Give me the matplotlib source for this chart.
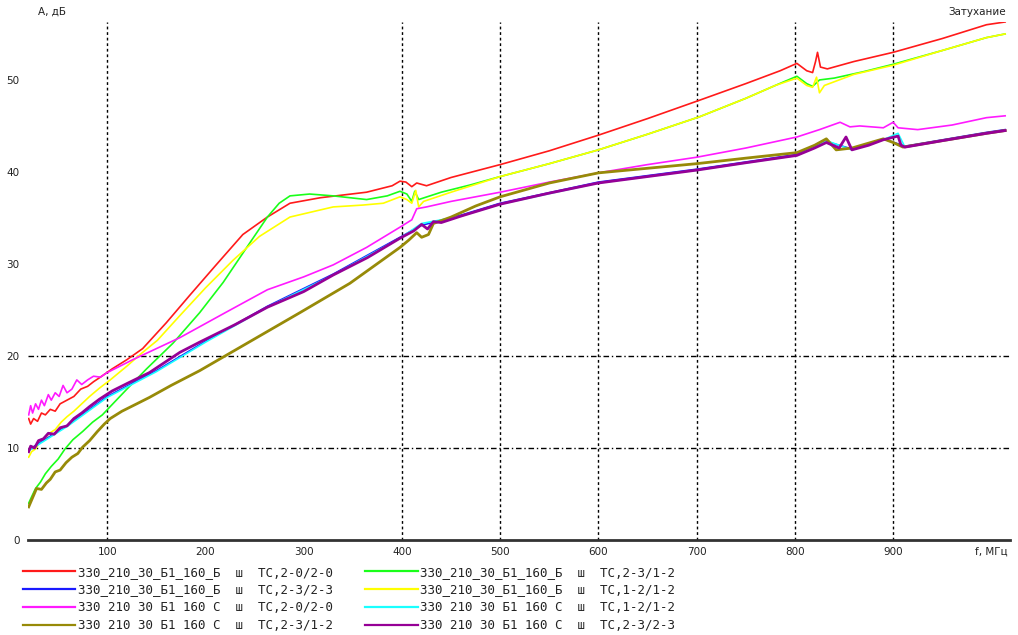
import matplotlib
matplotlib.use("Agg")
import matplotlib.pyplot as plt
from matplotlib.lines import Line2D

# --- measured attenuation curves: frequency (MHz) / attenuation (dB) ---
red_f = [20, 22, 25, 29, 33, 37, 42, 47, 52, 59, 66, 73, 80, 86, 93, 105, 120, 136, 160, 184, 210, 238, 263, 286, 317, 364, 390, 398, 404, 410, 415, 425, 450, 500, 550, 600, 650, 703, 750, 785, 802, 812, 818, 821, 823, 826, 833, 860, 900, 950, 995, 1014]
red_a = [13.2, 12.6, 13.2, 12.9, 13.8, 13.6, 14.2, 14.0, 14.8, 15.2, 15.6, 16.4, 16.7, 17.2, 17.7, 18.6, 19.6, 20.8, 23.6, 26.6, 29.8, 33.2, 35.1, 36.6, 37.2, 37.8, 38.5, 39.0, 38.9, 38.4, 38.8, 38.5, 39.4, 40.8, 42.3, 44.0, 45.8, 47.8, 49.6, 51.0, 51.8, 51.0, 50.8, 52.0, 53.0, 51.4, 51.2, 52.0, 53.0, 54.5, 56.0, 56.3]

green_f = [20, 23, 27, 32, 37, 43, 50, 57, 65, 75, 85, 95, 103, 120, 140, 167, 194, 218, 242, 263, 275, 286, 306, 330, 364, 385, 398, 405, 410, 413, 417, 440, 470, 500, 550, 600, 650, 703, 750, 780, 802, 812, 818, 825, 840, 870, 900, 950, 995, 1014]
green_a = [4.0, 4.7, 5.6, 6.3, 7.2, 8.0, 8.8, 9.9, 10.9, 11.8, 12.8, 13.6, 14.5, 16.4, 18.6, 21.4, 24.7, 28.0, 31.8, 35.1, 36.6, 37.4, 37.6, 37.4, 37.0, 37.4, 37.9, 37.6, 36.8, 37.9, 37.0, 37.8, 38.6, 39.5, 40.9, 42.4, 44.1, 46.0, 48.0, 49.4, 50.4, 49.6, 49.3, 50.0, 50.2, 50.9, 51.7, 53.2, 54.6, 55.0]

yellow_f = [20, 23, 27, 31, 36, 41, 47, 53, 59, 66, 74, 82, 92, 103, 120, 135, 151, 174, 200, 228, 255, 286, 310, 330, 360, 381, 398, 405, 410, 414, 417, 422, 450, 500, 550, 600, 650, 703, 750, 780, 802, 812, 818, 822, 825, 830, 860, 900, 950, 995, 1014]
yellow_a = [9.0, 9.6, 9.9, 10.6, 11.0, 11.6, 12.0, 12.8, 13.4, 14.0, 14.8, 15.6, 16.5, 17.4, 18.9, 20.3, 21.7, 24.4, 27.4, 30.4, 33.0, 35.1, 35.7, 36.2, 36.4, 36.6, 37.3, 37.0, 36.6, 38.0, 36.2, 36.8, 37.8, 39.5, 40.9, 42.4, 44.1, 46.0, 48.0, 49.4, 50.2, 49.4, 49.2, 50.3, 48.6, 49.4, 50.6, 51.6, 53.2, 54.6, 55.0]

magenta_f = [20, 22, 24, 27, 30, 33, 36, 40, 43, 47, 51, 55, 59, 64, 69, 74, 80, 86, 93, 100, 126, 150, 174, 220, 263, 300, 330, 364, 398, 410, 415, 425, 450, 500, 550, 600, 650, 700, 750, 802, 825, 846, 856, 866, 890, 900, 905, 925, 960, 995, 1014]
magenta_a = [13.6, 14.6, 13.8, 14.8, 14.2, 15.2, 14.6, 15.8, 15.2, 16.0, 15.6, 16.8, 16.0, 16.4, 17.4, 16.9, 17.4, 17.8, 17.7, 18.2, 19.6, 20.8, 22.0, 24.7, 27.2, 28.6, 29.9, 31.8, 34.0, 34.8, 36.0, 36.2, 36.8, 37.8, 38.9, 39.9, 40.8, 41.6, 42.6, 43.8, 44.6, 45.4, 44.9, 45.0, 44.8, 45.4, 44.8, 44.6, 45.1, 45.9, 46.1]

olive_f = [20, 24, 28, 33, 38, 42, 47, 52, 58, 64, 70, 75, 82, 90, 97, 103, 115, 130, 143, 165, 194, 228, 296, 347, 398, 407, 415, 420, 427, 432, 450, 475, 500, 550, 600, 650, 700, 750, 802, 820, 832, 842, 858, 890, 900, 910, 950, 995, 1014]
olive_a = [3.6, 4.6, 5.6, 5.5, 6.2, 6.6, 7.4, 7.6, 8.4, 9.0, 9.4, 10.1, 10.8, 11.8, 12.6, 13.2, 14.0, 14.8, 15.5, 16.8, 18.4, 20.5, 24.7, 27.9, 31.8, 32.6, 33.4, 32.9, 33.2, 34.4, 35.1, 36.3, 37.3, 38.8, 39.9, 40.4, 40.9, 41.5, 42.1, 42.9, 43.6, 42.4, 42.6, 43.6, 43.2, 42.7, 43.4, 44.2, 44.5]

purple_f = [20, 22, 26, 30, 35, 40, 46, 52, 59, 66, 74, 82, 92, 105, 120, 143, 174, 194, 230, 263, 300, 330, 365, 398, 412, 420, 426, 432, 440, 460, 500, 550, 600, 650, 700, 750, 802, 820, 832, 845, 852, 858, 875, 890, 905, 908, 912, 950, 995, 1014]
purple_a = [9.6, 10.2, 10.0, 10.8, 11.0, 11.6, 11.5, 12.2, 12.4, 13.2, 13.8, 14.5, 15.3, 16.2, 17.0, 18.2, 20.4, 21.5, 23.4, 25.3, 27.0, 28.8, 30.7, 32.8, 33.6, 34.3, 33.8, 34.6, 34.5, 35.2, 36.5, 37.7, 38.8, 39.5, 40.2, 41.0, 41.8, 42.6, 43.2, 42.6, 43.8, 42.4, 42.9, 43.5, 43.9, 42.9, 42.7, 43.4, 44.2, 44.5]

blue_f = [20, 60, 100, 150, 200, 263, 330, 398, 420, 460, 500, 600, 700, 802, 832, 858, 890, 912, 995, 1014]
blue_a = [9.8, 12.5, 15.6, 18.4, 21.6, 25.4, 28.9, 32.9, 34.2, 35.3, 36.6, 38.9, 40.3, 41.9, 43.3, 42.5, 43.6, 42.8, 44.3, 44.6]

cyan_f = [20, 60, 100, 150, 200, 263, 330, 398, 420, 460, 500, 600, 700, 802, 832, 858, 890, 905, 912, 995, 1014]
cyan_a = [9.7, 12.4, 15.5, 18.3, 21.5, 25.3, 28.8, 32.8, 34.4, 35.2, 36.5, 38.8, 40.2, 41.8, 43.4, 42.4, 43.5, 44.2, 42.7, 44.2, 44.5]

labels = [
    "330_210_30_Б1_160_Б  ш  ТС,2-0/2-0",
    "330_210_30_Б1_160_Б  ш  ТС,2-3/2-3",
    "330 210 30 Б1 160 С  ш  ТС,2-0/2-0",
    "330 210 30 Б1 160 С  ш  ТС,2-3/1-2",
    "330_210_30_Б1_160_Б  ш  ТС,2-3/1-2",
    "330_210_30_Б1_160_Б  ш  ТС,1-2/1-2",
    "330 210 30 Б1 160 С  ш  ТС,1-2/1-2",
    "330 210 30 Б1 160 С  ш  ТС,2-3/2-3",
]

x_ticks = [100, 200, 300, 400, 500, 600, 700, 800, 900, 1000]
x_tick_labels = ["100", "200", "300", "400", "500", "600", "700", "800", "900", "f, МГц"]
y_ticks = [0, 10, 20, 30, 40, 50]
v_grid = [100, 400, 500, 600, 700, 800, 900]
h_grid = [10, 20]

C_RED, C_BLUE, C_MAG, C_OLIVE = "#ff1a1a", "#1a1aff", "#ff1aff", "#978a08"
C_GREEN, C_YEL, C_CYAN, C_PURP = "#1aff1a", "#ffff00", "#1affff", "#960096"

fig = plt.figure(figsize=(10.18, 6.35), dpi=100)
ax = fig.add_axes([0.0275, 0.1496, 0.9645, 0.8158])
ax.set_xlim(19.3, 1018.8)
ax.set_ylim(0, 56.3)

for v in v_grid:
    ax.axvline(v, color="black", lw=1.0, ls=(0, (2, 2)), zorder=1)
for h in h_grid:
    ax.axhline(h, color="black", lw=1.0, ls=(0, (4, 2, 1, 2)), zorder=1)

ax.plot(red_f, red_a, color=C_RED, lw=1.2, zorder=3)
ax.plot(green_f, green_a, color=C_GREEN, lw=1.2, zorder=3)
ax.plot(yellow_f, yellow_a, color=C_YEL, lw=1.2, zorder=3)
ax.plot(magenta_f, magenta_a, color=C_MAG, lw=1.2, zorder=3)
ax.plot(blue_f, blue_a, color=C_BLUE, lw=1.2, zorder=3)
ax.plot(cyan_f, cyan_a, color=C_CYAN, lw=1.2, zorder=3)
ax.plot(olive_f, olive_a, color=C_OLIVE, lw=2.0, zorder=4)
ax.plot(purple_f, purple_a, color=C_PURP, lw=2.0, zorder=4)

for s in ("left", "top", "right"):
    ax.spines[s].set_visible(False)
ax.spines["bottom"].set_color("#333333")
ax.spines["bottom"].set_linewidth(2)

ax.set_xticks(x_ticks)
ax.set_xticklabels(x_tick_labels)
ax.set_yticks(y_ticks)
ax.tick_params(axis="both", length=0, labelsize=7.5, colors="#222222")
ax.tick_params(axis="x", pad=5)
ax.tick_params(axis="y", pad=6)

fig.text(0.037, 0.981, "A, дБ", fontsize=7.5, color="#222222", va="center", ha="left")
fig.text(0.988, 0.981, "Затухание", fontsize=7.5, color="#222222", va="center", ha="right")

handles = [Line2D([], [], color=c, lw=1.6) for c in
           (C_RED, C_BLUE, C_MAG, C_OLIVE, C_GREEN, C_YEL, C_CYAN, C_PURP)]
leg = fig.legend(handles, labels, ncol=2, loc="upper left", bbox_to_anchor=(0.016, 0.119),
                 frameon=False, borderpad=0, handlelength=4.2, handletextpad=0.2,
                 columnspacing=2.6, labelspacing=0.38,
                 prop={"family": "DejaVu Sans Mono", "size": 9.0})
for t in leg.get_texts():
    t.set_color("#222222")

fig.savefig("out.png", dpi=100, facecolor="white")
